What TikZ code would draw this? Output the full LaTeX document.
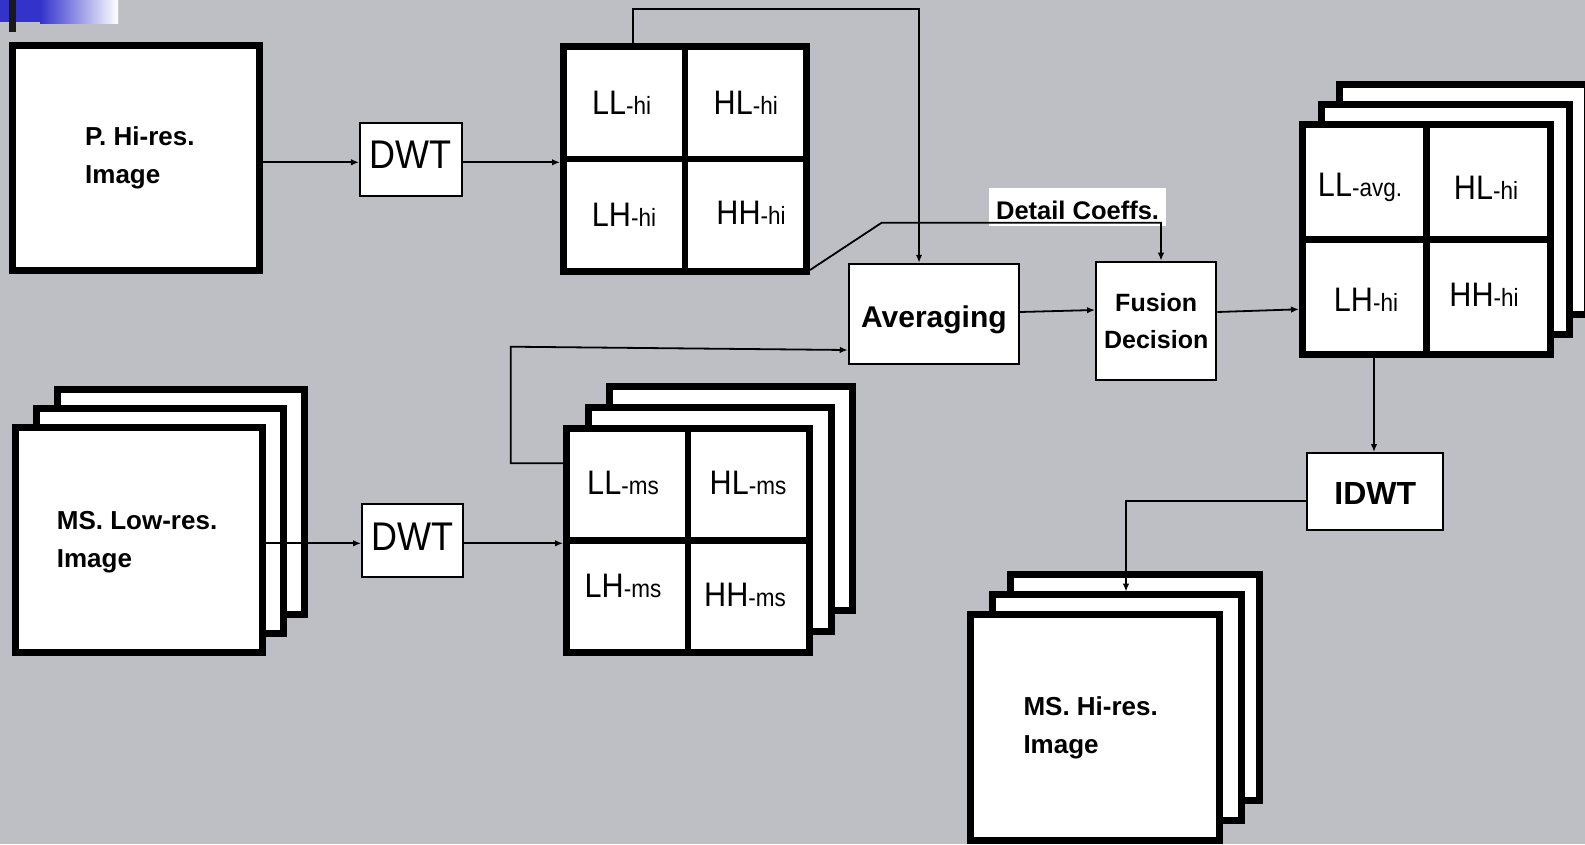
\documentclass[tikz,border=0pt]{standalone}
\usepackage{fontspec}
\setmainfont{Liberation Sans}
\newfontfamily\narrowsf[FakeStretch=0.9]{Liberation Sans}
\usetikzlibrary{arrows.meta}
\definecolor{slate}{RGB}{190,191,196}
\definecolor{titleblue}{RGB}{51,51,204}
% sub-band label: large band name, smaller suffix
\newcommand\subband[2]{{\narrowsf\fontsize{34}{34}\selectfont #1}{\narrowsf\fontsize{25}{25}\selectfont -#2}}

\begin{document}
\begin{tikzpicture}[x=1pt,y=-1pt,
  imgframe/.style={draw, fill=white, line width=7pt, inner sep=0pt,
    minimum width=247pt, minimum height=225pt},
  opbox/.style={draw, fill=white, line width=2pt, inner sep=0pt},
  divider/.style={line width=6.5pt},
  wire/.style={line width=1.8pt},
  conn/.style={wire, -{Latex[length=8pt,width=6.5pt]}},
  imglabel/.style={anchor=north west, inner sep=0pt, align=left,
    font=\bfseries\fontsize{26}{38}\selectfont},
  bandlabel/.style={inner sep=0pt},
]
% page and background
\useasboundingbox (0,0) rectangle (1585,844);
\fill[slate] (0,0) rectangle (1585,844);

% title bar ornament
\fill[titleblue] (0,0) rectangle (40,22);
\shade[left color=titleblue, right color=white] (40,0) rectangle (118,23);
\fill[black!90] (9,0) rectangle (16,32);

% panchromatic high-resolution image
\node[imgframe] (pan) at (136,157.5) {};
\node[imglabel] (panlbl) at (85,126) {P. Hi-res.\\Image};

% multispectral low-resolution image stack
\node[imgframe] (msl3) at (180.5,502) {};
\node[imgframe] (msl2) at (159.5,521) {};
\node[imgframe] (msl) at (138.5,540) {};
\node[imglabel] (msllbl) at (56.7,510.7) {MS. Low-res.\\Image};

% DWT blocks
\node[opbox, minimum width=101.7pt, minimum height=72.4pt,
  font=\narrowsf\fontsize{40}{40}\selectfont, text height=28.6pt, text depth=11pt]
  (dwta) at (410.8,159.5) {DWT};
\node[opbox, minimum width=101pt, minimum height=72.4pt,
  font=\narrowsf\fontsize{40}{40}\selectfont, text height=28.6pt, text depth=8.2pt]
  (dwtb) at (412.5,540.5) {DWT};

% sub-bands of the pan image
\node[imgframe, minimum width=243pt, minimum height=225pt] (hgrid) at (685,159) {};
\draw[divider] (hgrid.north) -- (hgrid.south);
\draw[divider] (hgrid.west) -- (hgrid.east);
\node[bandlabel] (hll) at (621.7,103) {\subband{LL}{hi}};
\node[bandlabel] (hhl) at (745.8,102.5) {\subband{HL}{hi}};
\node[bandlabel] (hlh) at (624,215) {\subband{LH}{hi}};
\node[bandlabel] (hhh) at (751,213) {\subband{HH}{hi}};

% sub-bands of the multispectral image
\node[imgframe, minimum width=243pt, minimum height=224pt] (mgrid3) at (731,498) {};
\node[imgframe, minimum width=243pt, minimum height=224pt] (mgrid2) at (710,519) {};
\node[imgframe, minimum width=243pt, minimum height=224pt] (mgrid) at (688,540.5) {};
\draw[divider] (mgrid.north) -- (mgrid.south);
\draw[divider] (mgrid.west) -- (mgrid.east);
\node[bandlabel] (mll) at (623,483) {\subband{LL}{ms}};
\node[bandlabel] (mhl) at (748,483) {\subband{HL}{ms}};
\node[bandlabel] (mlh) at (623,586) {\subband{LH}{ms}};
\node[bandlabel] (mhh) at (745,595) {\subband{HH}{ms}};

% averaging and fusion blocks
\node[opbox, minimum width=170.3pt, minimum height=100.3pt,
  font=\bfseries\fontsize{30}{30}\selectfont, text height=33pt, text depth=5pt]
  (avg) at (933.9,313.9) {Averaging};
\node[opbox, minimum width=120.3pt, minimum height=118.6pt, align=center,
  font=\bfseries\fontsize{25}{37}\selectfont]
  (fus) at (1156.2,321) {Fusion\\Decision};
\node[fill=white, inner sep=0pt, minimum width=176.7pt, minimum height=37.7pt,
  font=\bfseries\fontsize{25.5}{26}\selectfont, text height=30pt, text depth=6pt]
  (detail) at (1077.6,207.2) {Detail Coeffs.};

% fused sub-band stack
\node[imgframe, minimum width=248pt, minimum height=230pt] (fgrid3) at (1463.5,199.5) {};
\node[imgframe, minimum width=248pt, minimum height=230pt] (fgrid2) at (1445.8,219.5) {};
\node[imgframe, minimum width=248pt, minimum height=230pt] (fgrid) at (1426.5,239.5) {};
\draw[divider] (fgrid.north) -- (fgrid.south);
\draw[divider] (fgrid.west) -- (fgrid.east);
\node[bandlabel] (fll) at (1360,187.5) {\subband{LL}{avg.}};
\node[bandlabel] (fhl) at (1486,188) {\subband{HL}{hi}};
\node[bandlabel] (flh) at (1366,300) {\subband{LH}{hi}};
\node[bandlabel] (fhh) at (1484,295) {\subband{HH}{hi}};

% inverse transform
\node[opbox, minimum width=136pt, minimum height=76.7pt,
  font=\bfseries\fontsize{32}{32}\selectfont, text height=30pt, text depth=3pt]
  (idwt) at (1375.3,491.4) {IDWT};

% multispectral high-resolution result stack
\node[imgframe, minimum width=249pt, minimum height=226pt] (out3) at (1134.5,687.2) {};
\node[imgframe, minimum width=249pt, minimum height=226pt] (out2) at (1116.5,707.2) {};
\node[imgframe, minimum width=249pt, minimum height=226pt] (out) at (1095.3,727.3) {};
\node[imglabel] (outlbl) at (1023.3,696.4) {MS. Hi-res.\\Image};

% routing points
\coordinate (ta) at (633,9);
\coordinate (tb) at (919,9);
\coordinate (da) at (881.7,222.7);
\coordinate (db) at (1161,222.7);
\coordinate (la) at (510.7,463.3);
\coordinate (lb) at (510.7,346.7);
\coordinate (ia) at (1126,501.3);

% connectors
\draw[conn] (pan.east |- 0,162.3) -- (dwta.west |- 0,162.3);
\draw[conn] (dwta.east |- 0,162.3) -- (hgrid.west |- 0,162.3);
\draw[conn] (hgrid.north -| ta) -- (ta) -- (tb) -- (avg.north -| tb);
\draw[conn] ([yshift=5pt]hgrid.south east) -- (da) -- (db) -- (fus.north -| db);
\draw[conn] (msl.east |- 0,543.3) -- (dwtb.west |- 0,543.3);
\draw[conn] (dwtb.east |- 0,543.3) -- (mgrid.west |- 0,543.3);
\draw[conn] (mgrid.west |- la) -- (la) -- (lb) -- (avg.west |- 0,350);
\draw[conn] (avg.east |- 0,312) -- (fus.west |- 0,310);
\draw[conn] (fus.east |- 0,312) -- (fgrid.west |- 0,309.3);
\draw[conn] (fgrid.south -| 1374,0) -- (idwt.north -| 1374,0);
\draw[conn] (idwt.west |- ia) -- (ia) -- (1126,591.7);
\end{tikzpicture}
\end{document}
